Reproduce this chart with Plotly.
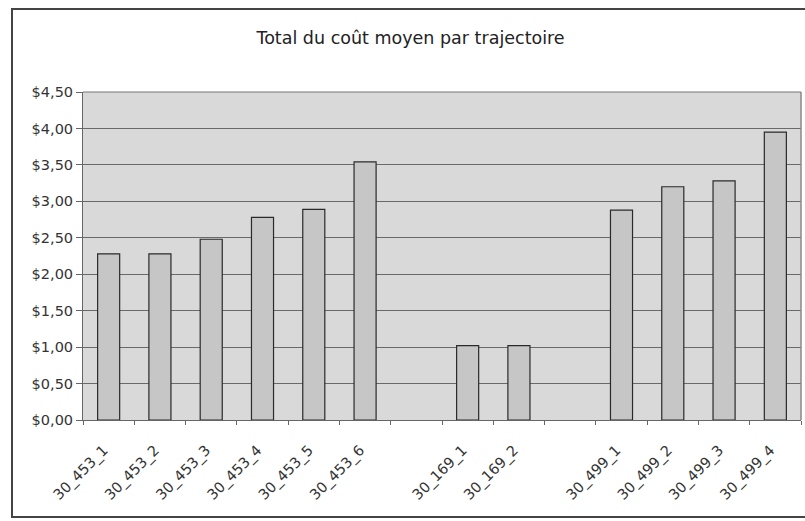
import plotly.graph_objects as go

categories = ["30_453_1", "30_453_2", "30_453_3", "30_453_4", "30_453_5", "30_453_6",
              " ", "30_169_1", "30_169_2", "  ",
              "30_499_1", "30_499_2", "30_499_3", "30_499_4"]
values = [2.28, 2.28, 2.48, 2.78, 2.89, 3.54,
          None, 1.02, 1.02, None,
          2.88, 3.20, 3.28, 3.95]
y_tickvals = [0, 0.5, 1.0, 1.5, 2.0, 2.5, 3.0, 3.5, 4.0, 4.5]
y_ticktext = ["$0,00", "$0,50", "$1,00", "$1,50", "$2,00", "$2,50",
              "$3,00", "$3,50", "$4,00", "$4,50"]
title_text = "Total du coût moyen par trajectoire"

fig = go.Figure(go.Bar(
    x=categories, y=values,
    marker=dict(color="#c6c6c6", line=dict(color="#2a2a2a", width=1.2)),
))

fig.update_layout(
    width=805, height=521,
    margin=dict(l=83, r=4, t=92, b=101),
    paper_bgcolor="white",
    plot_bgcolor="#d9d9d9",
    bargap=0.57,
    showlegend=False,
    font=dict(family="DejaVu Sans, Liberation Sans, sans-serif", color="#333333", size=13),
    title=dict(text=title_text, x=0.51, xref="container", xanchor="center",
               y=0.928, yanchor="middle",
               font=dict(size=17.5, color="#222222")),
    xaxis=dict(type="category", tickangle=-45, tickson="boundaries",
               ticks="outside", ticklen=4, tickcolor="#666666",
               showline=True, linecolor="#666666", linewidth=1,
               showgrid=False, tickfont=dict(size=14.5, color="#333333"),
               ticklabelstandoff=15, ticklabelshift=-5,
               range=[-0.5, len(categories) - 0.5]),
    yaxis=dict(range=[0, 4.5], tickvals=y_tickvals, ticktext=y_ticktext,
               ticks="outside", ticklen=6, tickcolor="#666666",
               showline=True, linecolor="#666666", linewidth=1,
               showgrid=True, gridcolor="#6a6a6a", gridwidth=1,
               zeroline=False, tickfont=dict(size=14.5, color="#333333")),
    shapes=[
        dict(type="rect", xref="paper", yref="paper",
             x0=1, x1=1, y0=0, y1=1, line=dict(color="#888888", width=1)),
        dict(type="line", xref="paper", yref="paper",
             x0=0, x1=1, y0=1, y1=1, line=dict(color="#777777", width=1)),
        dict(type="rect", xref="paper", yref="paper",
             x0=(12 - 83) / 718, x1=(807 - 83) / 718,
             y0=(420 - 517) / 328, y1=(420 - 9) / 328,
             line=dict(color="#444444", width=2), layer="below"),
    ],
)

fig.write_html("out.html")
